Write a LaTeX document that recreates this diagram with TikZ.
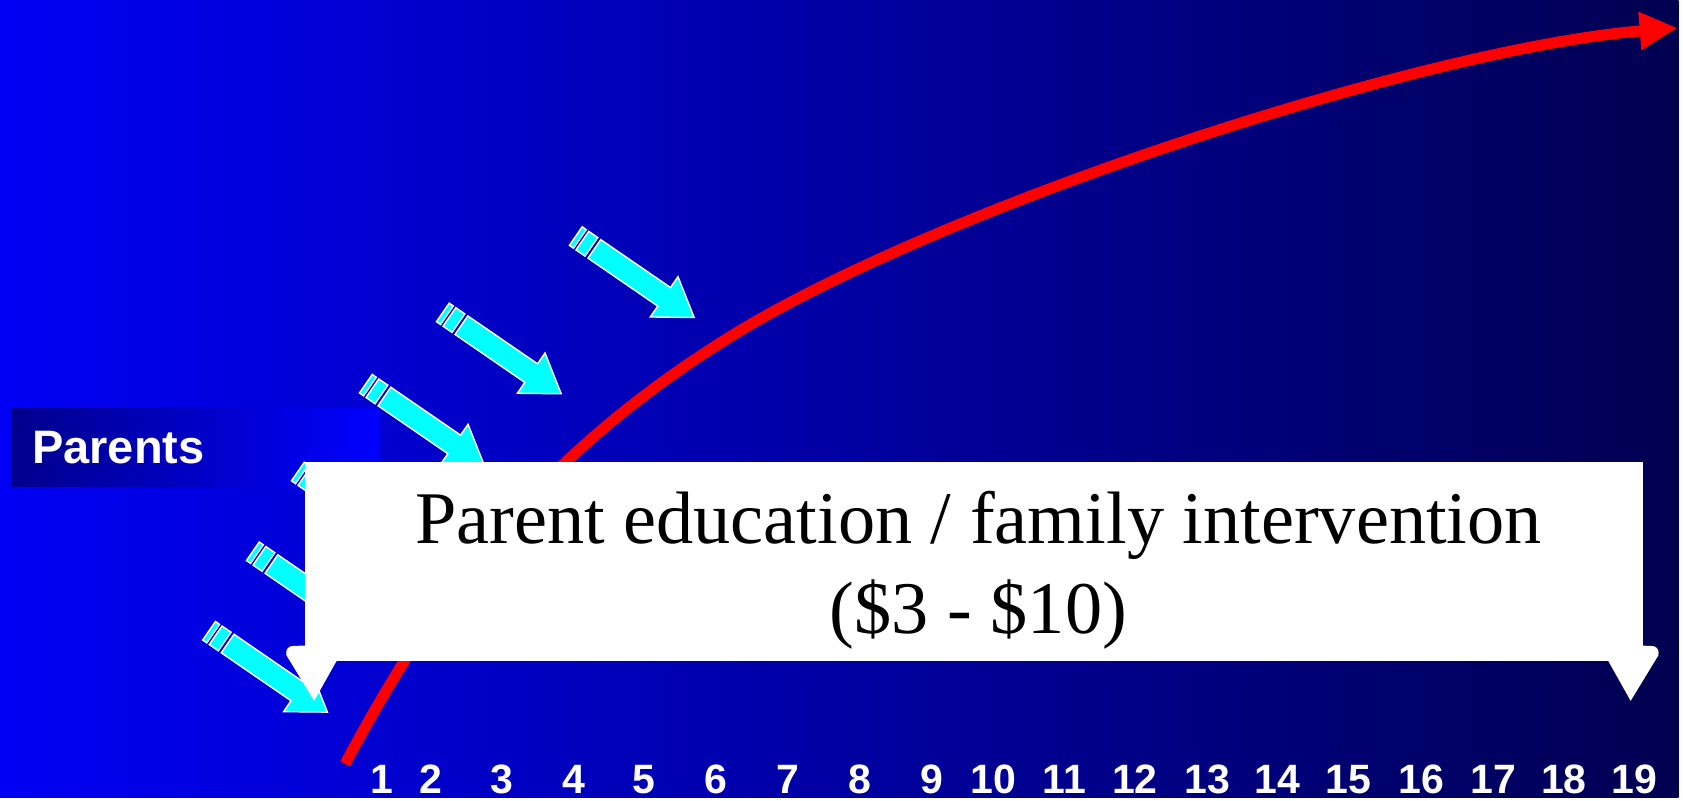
\documentclass[tikz,border=0pt]{standalone}
\usepackage{fontspec}
\setmainfont{Liberation Serif}
\setsansfont{Liberation Sans}
\usetikzlibrary{arrows.meta}
\definecolor{bgleft}{RGB}{0,0,245}
\definecolor{bgright}{RGB}{0,0,80}
\definecolor{tagdark}{RGB}{0,0,140}
\definecolor{taglight}{RGB}{0,0,255}
\definecolor{pushcyan}{RGB}{0,255,255}
\begin{document}
\begin{tikzpicture}[x=0.02cm,y=-0.02cm,
  push/.style={fill=pushcyan,draw=white,line width=0.8pt},
  growth/.style={draw=red,line width=0.22cm,-{Triangle[length=0.76cm,width=0.72cm]}},
  title/.style={anchor=base,font=\fontsize{42.4}{51}\selectfont},
  age/.style={anchor=base,text=white,font=\sffamily\bfseries\fontsize{23.4}{28}\selectfont}]
% background
\shade[left color=bgleft,right color=bgright] (0,0) rectangle (1683,800);
% label on the left
\shade[left color=tagdark,right color=taglight] (12,410) rectangle (381,488);
\node[anchor=base west,inner sep=0,text=white,font=\sffamily\bfseries\fontsize{26.8}{32}\selectfont] (parents) at (32,465) {Parents};
% red curve
\coordinate (birth) at (346,766);
\coordinate (bend) at (733,337);
\coordinate (adult) at (1682,28);
\draw[growth] (birth) .. controls (435,599) and (537.5,458) .. (bend)
  .. controls (945.5,205.3) and (1432.7,48) .. (adult);
% cyan striped arrows
\foreach \tx/\ty in {696/318.3,562.7/394.8,485.5/466.3,417.3/554.4,372.2/634.3,328.3/714}{
  \begin{scope}[shift={(\tx,\ty)},rotate=-34.5]
    \filldraw[push] (0,0) -- (-36.5,24.5) -- (-36.5,11.3) -- (-121.4,11.3) -- (-121.4,-11.3) -- (-36.5,-11.3) -- (-36.5,-24.5) -- cycle;
    \filldraw[push] (-125,11.3) rectangle (-136,-11.3);
    \filldraw[push] (-139,11.3) rectangle (-144,-11.3);
  \end{scope}
}
% white arrow heads
\foreach \tx/\s in {315/-1,1635/1}{
  \fill[white] (\tx,702.7) -- ++({\s*28},-46) -- ++({-\s*6.5},-9) -- ++({-\s*53.5},-2) -- cycle;
  \fill[white] ({\tx+\s*21.5},654.2) circle (0.13cm);
}
% box
\node[fill=white,minimum width=26.82cm,minimum height=4cm,inner sep=0] (plan) at (976.5,563) {};
\node[title] (planA) at (981,545) {Parent education / family intervention};
\node[title] (planB) at (981,635) {(\$3 - \$10)};
% ages
\foreach \n/\x in {1/383,2/432.5,3/503,4/575,5/646,6/718,7/790,8/862,9/934,10/996,11/1067,12/1138,13/1211,14/1281,15/1352,16/1425,17/1497,18/1568,19/1639}
  \node[age] (age\n) at (\x,796) {\n};
\end{tikzpicture}
\end{document}
